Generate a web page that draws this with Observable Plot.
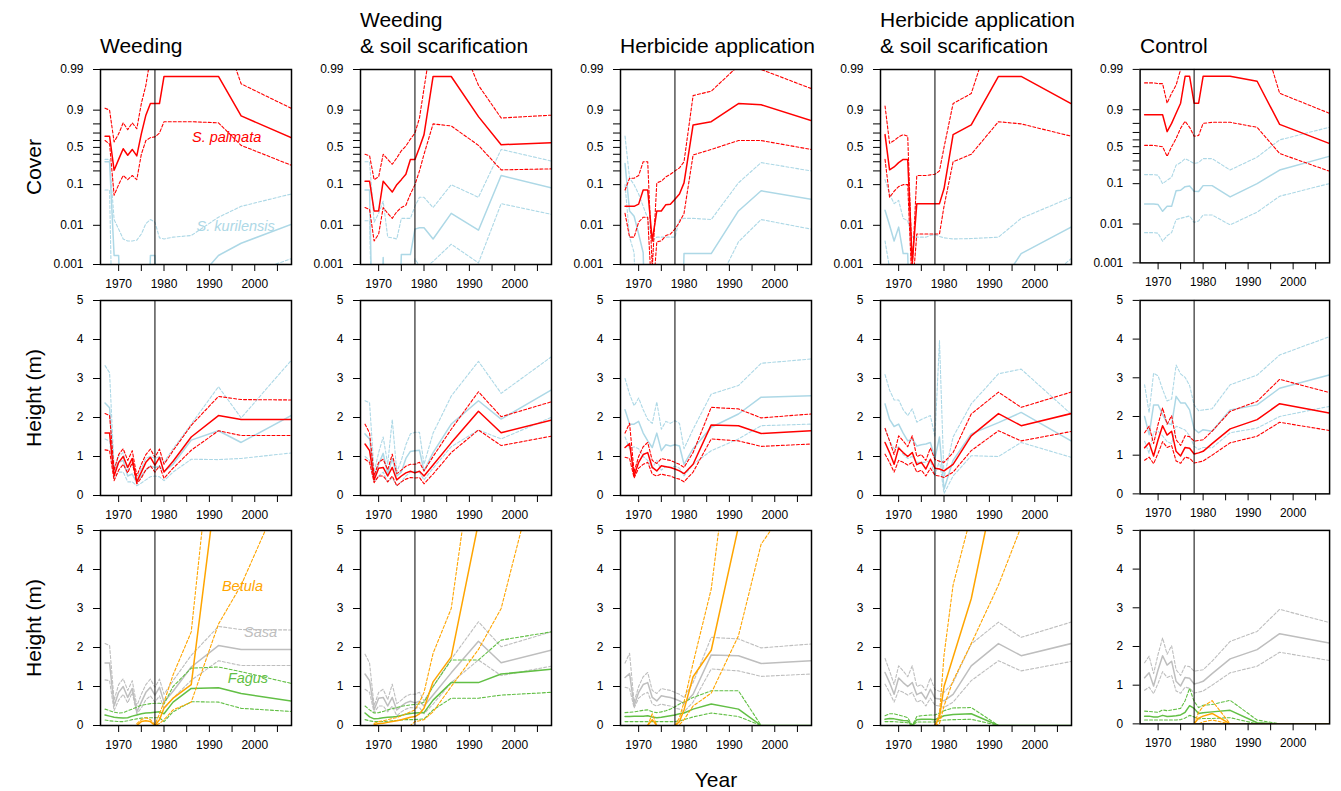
<!DOCTYPE html>
<html><head><meta charset="utf-8">
<script src="https://cdn.jsdelivr.net/npm/d3@7"></script>
<script src="https://cdn.jsdelivr.net/npm/@observablehq/plot@0.6"></script>
<style>
body{margin:0;background:#fff;}
#root{position:relative;width:1341px;height:791px;font-family:"Liberation Sans",Arial,sans-serif;color:#000;overflow:hidden;}
.title{position:absolute;font-size:21px;line-height:26px;white-space:pre;}
.ylab{position:absolute;width:0;height:0;}
.ylab span{position:absolute;left:0;top:0;transform:translate(-50%,-50%) rotate(-90deg);font-size:21px;white-space:nowrap;}
.xlab{position:absolute;font-size:21px;transform:translate(-50%,-50%);}
.panel{position:absolute;}
</style></head><body><div id="root"></div>
<script>
// ---------------- data ----------------
const years = [1967,1968,1969,1970,1971,1972,1973,1974,1975,1976,1977,1978,1979,1980,1982,1986,1992,1997,2008];
const treatments = ["Weeding", "Weeding\n& soil scarification", "Herbicide application", "Herbicide application\n& soil scarification", "Control"];
const rowLabels = ["Cover", "Height (m)", "Height (m)"];
const coverTicks = [0.001, 0.01, 0.1, 0.5, 0.9, 0.99];
const coverMinorTicks = [0.2, 0.3, 0.4, 0.6, 0.7, 0.8];
const heightTicks = [0, 1, 2, 3, 4, 5];
const yearTicks = [1970, 1975, 1980, 1985, 1990, 1995, 2000, 2005];
const treatmentYear = 1978;

// Cover of Sasa palmata (median, lower, upper), one row per treatment
const coverPalmataMid = [
  [0.66,0.66,0.206,0.33,0.48,0.386,0.47,0.377,0.69,0.87,0.93,0.93,0.93,0.985,0.985,0.985,0.985,0.865,0.64],
  [0.12,0.12,0.023,0.023,0.12,0.09,0.067,0.1,0.13,0.17,0.33,0.33,0.5,0.68,0.985,0.985,0.86,0.54,0.57],
  [0.03,0.03,0.03,0.034,0.075,0.075,0.004,0.023,0.023,0.033,0.034,0.045,0.06,0.11,0.79,0.82,0.93,0.925,0.83],
  [0.68,0.21,0.24,0.29,0.33,0.33,0.0011,0.035,0.035,0.035,0.035,0.035,0.035,0.08,0.68,0.79,0.985,0.985,0.93],
  [0.87,0.87,0.87,0.87,0.87,0.71,0.8,0.88,0.93,0.985,0.985,0.93,0.93,0.985,0.985,0.985,0.98,0.79,0.55]
];
const coverPalmataLo = [
  [0.6,0.55,0.056,0.1,0.16,0.13,0.16,0.13,0.4,0.6,0.64,0.65,0.7,0.82,0.82,0.82,0.81,0.53,0.26],
  [0.028,0.025,0.004,0.006,0.028,0.02,0.015,0.022,0.028,0.032,0.06,0.1,0.2,0.4,0.8,0.78,0.53,0.21,0.22],
  [0.02,0.005,0.005,0.012,0.016,0.016,0.0001,0.0038,0.004,0.0055,0.006,0.008,0.012,0.02,0.39,0.47,0.6,0.6,0.47],
  [0.33,0.05,0.07,0.09,0.1,0.1,0.0002,0.006,0.006,0.006,0.006,0.006,0.006,0.03,0.3,0.4,0.82,0.8,0.66],
  [0.52,0.52,0.52,0.51,0.5,0.36,0.5,0.62,0.75,0.82,0.76,0.65,0.66,0.8,0.81,0.81,0.76,0.4,0.19]
];
const coverPalmataHi = [
  [0.91,0.9,0.58,0.69,0.81,0.74,0.81,0.75,0.93,0.975,0.995,0.998,0.998,0.998,0.998,0.998,0.9995,0.977,0.91],
  [0.4,0.38,0.13,0.15,0.4,0.33,0.27,0.35,0.45,0.52,0.62,0.7,0.85,0.97,0.999,0.9995,0.975,0.85,0.87],
  [0.075,0.14,0.14,0.16,0.3,0.3,0.0008,0.11,0.12,0.15,0.17,0.2,0.23,0.3,0.955,0.965,0.992,0.99,0.97],
  [0.92,0.56,0.6,0.65,0.68,0.66,0.0008,0.16,0.16,0.16,0.165,0.17,0.2,0.5,0.93,0.96,0.9997,0.9997,0.9997],
  [0.978,0.978,0.978,0.977,0.977,0.93,0.96,0.975,0.99,0.999,0.999,0.999,0.999,0.999,0.999,0.9995,0.9995,0.96,0.88]
];
// Cover of Sasa kurilensis
const coverKurilMid = [
  [0.3,0.3,0.0017,0.0017,0,0,0,0,0,0,0.0017,0.0017,0,0,0,0.00027,0.0017,0.0035,0.0105],
  [0.075,0.075,0,0,0.0015,0,0,0,0.0018,0.0018,0.0018,0.008,0.0087,0.0087,0.0045,0.02,0.0075,0.16,0.085],
  [0.28,0.023,0.017,0.006,0.002,0,0,0,0,0,0,0,0,0.0019,0.0019,0.0019,0.023,0.072,0.045],
  [0.024,0.01,0.004,0.009,0.0019,0.0019,0,0,0,0,0,0,0,0,0,0,0.00025,0.0019,0.009],
  [0.032,0.032,0.032,0.031,0.021,0.028,0.028,0.068,0.07,0.085,0.088,0.066,0.065,0.09,0.09,0.048,0.1,0.2,0.36]
];
const coverKurilLo = [
  [0.075,0.075,0,0,0,0,0,0,0,0,0,0,0,0,0,0,0.0001,0.0005,0.0014],
  [0.013,0.013,0,0,0,0,0,0,0,0,0,0.0014,0.0009,0.0008,0.0012,0.0033,0.0011,0.035,0.019],
  [0.1,0.005,0.002,0,0,0,0,0,0,0,0,0,0,0,0,0.00015,0.0038,0.014,0.008],
  [0.004,0.0008,0,0,0,0,0,0,0,0,0,0,0,0,0,0,0,0.000126,0.0014],
  [0.006,0.006,0.006,0.0058,0.0036,0.005,0.006,0.013,0.014,0.015,0.016,0.011,0.012,0.017,0.017,0.0095,0.02,0.05,0.1]
];
const coverKurilHi = [
  [0.33,0.33,0.014,0.008,0.0045,0.004,0.004,0.0042,0.006,0.011,0.014,0.012,0.0048,0.0045,0.005,0.0055,0.016,0.03,0.06],
  [0.3,0.3,0.012,0.02,0.04,0.005,0.0048,0.0045,0.015,0.015,0.015,0.03,0.05,0.05,0.028,0.1,0.05,0.47,0.31],
  [0.66,0.14,0.1,0.06,0.03,0.015,0.004,0.005,0.005,0.005,0.005,0.005,0.014,0.015,0.015,0.014,0.11,0.29,0.2],
  [0.13,0.06,0.035,0.042,0.015,0.013,0.005,0.005,0.005,0.005,0.0055,0.0058,0.0052,0.0048,0.0045,0.0046,0.005,0.015,0.05],
  [0.16,0.16,0.16,0.155,0.1,0.12,0.14,0.25,0.28,0.33,0.3,0.27,0.28,0.33,0.33,0.2,0.35,0.6,0.76]
];
// Height (m) of Sasa palmata (also the grey "Sasa" lines of the bottom row)
const heightPalmataMid = [
  [1.6,1.6,0.5,0.85,1.0,0.72,0.95,0.35,0.6,0.85,0.98,0.78,0.98,0.6,0.88,1.5,2.05,1.95,1.95],
  [1.32,1.15,0.4,0.7,0.72,0.5,0.72,0.4,0.5,0.58,0.62,0.58,0.62,0.5,0.78,1.35,2.16,1.61,1.93],
  [1.23,1.33,0.5,0.85,1.05,1.1,0.72,0.63,0.76,0.74,0.72,0.68,0.63,0.56,0.8,1.81,1.79,1.59,1.66],
  [1.36,1.1,0.8,1.22,1.1,1.0,1.1,0.79,0.85,0.68,0.93,0.7,0.68,0.63,0.8,1.53,2.1,1.79,2.1],
  [1.19,1.32,0.98,1.4,1.76,1.52,1.62,1.1,0.98,1.2,1.18,1.03,1.06,1.1,1.3,1.68,1.92,2.33,2.09]
];
const heightPalmataLo = [
  [1.17,1.15,0.38,0.65,0.8,0.58,0.85,0.3,0.45,0.66,0.76,0.6,0.76,0.44,0.7,1.16,1.66,1.54,1.54],
  [0.93,0.85,0.33,0.5,0.5,0.35,0.5,0.25,0.35,0.42,0.46,0.45,0.46,0.3,0.55,1.1,1.68,1.28,1.52],
  [0.98,0.95,0.45,0.7,0.8,0.85,0.55,0.5,0.55,0.52,0.5,0.45,0.42,0.35,0.6,1.45,1.4,1.26,1.32],
  [1.06,0.85,0.6,0.9,0.85,0.78,0.85,0.6,0.65,0.5,0.7,0.52,0.5,0.46,0.6,1.15,1.66,1.4,1.64],
  [0.87,0.95,0.78,1.05,1.35,1.2,1.25,0.85,0.79,0.95,0.92,0.8,0.82,0.85,1.0,1.32,1.49,1.85,1.64]
];
const heightPalmataHi = [
  [2.1,2.05,0.65,1.05,1.2,0.9,1.15,0.5,0.8,1.05,1.19,0.98,1.19,0.8,1.15,1.8,2.54,2.46,2.45],
  [1.83,1.6,0.5,0.85,0.93,0.66,1.06,0.56,0.65,0.75,0.8,0.8,0.85,0.63,1.0,1.7,2.66,2.02,2.4],
  [1.6,1.85,0.6,1.0,1.25,1.36,0.9,0.82,0.95,0.92,0.9,0.85,0.8,0.72,1.1,2.26,2.22,1.99,2.09],
  [1.72,1.4,1.05,1.53,1.4,1.25,1.53,1.0,1.05,0.9,1.22,0.92,0.88,0.85,1.1,2.09,2.65,2.26,2.65],
  [1.58,1.75,1.3,1.8,2.22,1.8,2.02,1.4,1.25,1.5,1.48,1.36,1.38,1.4,1.62,2.13,2.39,2.96,2.62]
];
// Height (m) of Sasa kurilensis
const heightKurilMid = [
  [2.37,2.25,0.6,0.85,0.9,0.5,0.55,0.33,0.5,0.65,0.75,0.72,0.75,0.62,0.8,1.42,1.66,1.36,2.05],
  [1.58,1.45,0.46,0.8,1.08,0.55,0.95,0.5,0.6,0.95,1.13,1.15,1.16,0.63,1.1,1.83,2.43,1.96,2.7],
  [2.2,1.83,1.83,1.9,1.6,1.4,1.23,1.6,1.15,1.3,1.27,1.3,1.27,0.8,1.2,1.75,2.09,2.52,2.56],
  [2.35,1.95,1.77,1.83,1.6,1.4,1.45,1.27,1.3,1.32,1.36,0.95,1.5,0.16,0.9,1.58,1.87,2.13,1.4],
  [2.0,1.53,2.3,2.3,2.05,1.83,1.79,2.52,2.35,2.35,2.17,1.68,1.58,1.66,1.62,2.17,2.3,2.73,3.07]
];
const heightKurilLo = [
  [1.45,1.4,0.45,0.6,0.6,0.35,0.35,0.25,0.32,0.4,0.48,0.5,0.48,0.38,0.6,0.93,0.92,0.95,1.09],
  [1.0,0.9,0.35,0.5,0.6,0.35,0.45,0.25,0.35,0.5,0.6,0.62,0.6,0.4,0.7,1.25,1.68,1.45,2.0],
  [1.5,1.2,1.25,1.2,1.0,0.9,0.7,0.9,0.65,0.75,0.72,0.75,0.7,0.5,0.8,1.15,1.45,1.79,1.83],
  [1.72,1.4,1.2,1.25,1.05,0.95,1.0,0.85,0.85,0.85,0.9,0.5,0.9,0.05,0.5,1.02,1.0,1.36,0.98],
  [1.36,1.05,1.6,1.62,1.5,1.35,1.3,1.75,1.7,1.65,1.5,1.23,1.15,1.2,1.19,1.58,1.7,2.0,2.26]
];
const heightKurilHi = [
  [3.33,3.15,0.7,1.0,1.1,0.65,0.8,0.45,0.7,0.95,1.0,0.95,1.0,0.85,1.2,1.83,2.79,1.99,3.46],
  [2.43,2.38,0.6,1.1,1.5,0.8,1.95,0.6,0.9,1.3,1.58,1.62,1.62,0.8,1.6,2.55,3.44,2.62,3.55],
  [3.0,2.6,2.3,2.5,2.2,1.95,1.85,2.4,1.7,1.9,1.85,1.92,1.85,1.2,1.7,2.6,2.82,3.39,3.5],
  [3.1,2.7,2.45,2.45,2.2,2.05,2.22,1.88,1.95,2.0,2.05,1.5,3.97,0.45,1.5,2.35,3.12,3.24,2.09],
  [2.82,2.1,3.12,3.05,2.7,2.4,2.45,3.33,3.1,3.01,2.8,2.3,2.15,2.17,2.2,2.82,3.07,3.59,4.06]
];
// Height (m) of Betula (null = not present)
const betulaMid = [
  [null,null,null,null,null,null,null,0,0.1,0.12,0.1,0,0.15,0.45,0.7,1.05,6.6,10,14],
  [null,null,0.02,0.05,0.06,0.08,0.1,0.12,0.15,0.18,0.21,0.23,0.3,0.44,1.12,1.76,5.2,8,12],
  [null,null,null,null,null,0,0.15,0,null,null,null,0,0.1,0.4,1.25,1.93,5.1,8,12],
  [null,null,null,null,null,null,null,null,null,null,null,0,0.2,1.0,1.75,3.25,6.6,10,14],
  [null,null,null,null,null,null,null,null,null,null,null,0,0.15,0.2,0.27,0,0,0,0]
];
const betulaLo = [
  [null,null,null,null,null,null,null,0,0,0,0,0,0.05,0.15,0.4,0.6,2.6,3.6,6.5],
  [null,null,0,0,0,0,0,0,0,0,0,0.1,0.12,0.15,0.35,1.0,1.95,3.0,8],
  [null,null,null,null,null,0,0,0,null,null,null,0,0.02,0.15,0.5,0.83,2.3,4.65,6.5],
  [null,null,null,null,null,null,null,null,null,null,null,0,0.05,0.5,1.15,2.1,3.6,5.1,8],
  [null,null,null,null,null,null,null,null,null,null,null,0,0,0.05,0.1,0,0,0,0]
];
const betulaHi = [
  [null,null,null,null,null,null,null,0.05,0.15,0.2,0.15,0.02,0.3,0.6,1.3,2.4,9,12,15],
  [null,null,0.05,0.1,0.12,0.15,0.18,0.2,0.25,0.3,0.35,0.4,0.6,0.85,1.85,3.0,8,11,15],
  [null,null,null,null,null,0,0.3,0,null,null,null,0,0.2,0.6,1.6,3.5,9,12,15],
  [null,null,null,null,null,null,null,null,null,null,null,0,0.3,1.8,3.6,5.4,12,15,20],
  [null,null,null,null,null,null,null,null,null,null,null,0,0.3,0.45,0.6,0,0,0,0]
];
// Height (m) of Fagus
const fagusMid = [
  [0.27,0.24,0.21,0.2,0.19,0.2,0.24,0.27,0.3,0.32,0.33,0.34,0.35,0.3,0.6,0.95,0.97,0.82,0.63],
  [0.32,0.22,0.17,0.18,0.2,0.21,0.22,0.23,0.26,0.29,0.31,0.32,0.33,0.33,0.65,1.1,1.1,1.32,1.44],
  [0.23,0.23,0.24,0.24,0.24,0.25,0.22,0.2,0.21,0.23,0.25,0.27,0.3,0.32,0.42,0.55,0.42,0,0],
  [0.16,0.18,0.17,0.15,0.13,0.12,0,0.15,0.16,0.16,0.16,0.15,0.2,0.25,0.28,0.3,0,0,0],
  [0.2,0.2,0.18,0.18,0.22,0.19,0.2,0.21,0.23,0.3,0.47,0.4,0.27,0.29,0.31,0.35,0.03,0,0]
];
const fagusLo = [
  [0.14,0.12,0.11,0.1,0.1,0.12,0.15,0.17,0.19,0.2,0.2,0.2,0.2,0.1,0.35,0.61,0.6,0.44,0.36],
  [0.15,0.12,0.1,0.1,0.1,0.11,0.12,0.13,0.14,0.15,0.15,0.15,0.16,0.17,0.4,0.7,0.7,0.78,0.85],
  [0.1,0.1,0.1,0.1,0.1,0.1,0.1,0.1,0.1,0.1,0.1,0.1,0.12,0.15,0.22,0.32,0.23,0,0],
  [0.1,0.1,0.1,0.09,0.08,0.07,0,0.09,0.09,0.09,0.09,0.09,0.12,0.14,0.15,0.16,0,0,0],
  [0.1,0.1,0.1,0.1,0.1,0.1,0.1,0.1,0.11,0.15,0.22,0.18,0.13,0.14,0.14,0.16,0,0,0]
];
const fagusHi = [
  [0.42,0.38,0.34,0.32,0.33,0.38,0.42,0.47,0.52,0.54,0.56,0.57,0.57,0.55,1.0,1.47,1.5,1.38,1.08],
  [0.5,0.4,0.32,0.33,0.36,0.4,0.43,0.46,0.49,0.51,0.53,0.54,0.55,0.6,1.0,1.68,1.68,2.19,2.4],
  [0.33,0.34,0.35,0.37,0.39,0.4,0.35,0.33,0.35,0.38,0.42,0.48,0.55,0.6,0.72,0.89,0.89,0,0],
  [0.25,0.3,0.3,0.27,0.24,0.2,0,0.23,0.25,0.26,0.27,0.27,0.32,0.38,0.45,0.46,0,0,0],
  [0.33,0.32,0.31,0.3,0.36,0.34,0.36,0.38,0.4,0.6,0.92,0.58,0.42,0.48,0.5,0.61,0.1,0,0]
];
// In-panel species labels (first column only)
const coverLabels = [{x: 1993.8, p: 0.646, text: "S. palmata", sp: "palmata"}, {x: 1995.8, p: 0.0094, text: "S. kurilensis", sp: "kurilensis"}];
const treeLabels = [{x: 1997.3, h: 3.58, text: "Betula", sp: "betula"}, {x: 2001.3, h: 2.38, text: "Sasa", sp: "sasa"}, {x: 1998.5, h: 1.2, text: "Fagus", sp: "fagus"}];

// ---------------- styles ----------------
const colors = {palmata: "#ff0000", kurilensis: "#add8e6", betula: "#ffa500", sasa: "#bebebe", fagus: "#62bf45"};
const PW = 191, PH = 195, ML = 50, MR = 12, MT = 10, MB = 38;
const colLeft = c => 100 + 260 * c;
const rowTop = [69, 300, 530];
const font = "'Liberation Sans', Arial, sans-serif";

const logit = p => { const q = Math.min(Math.max(p, 1e-7), 1 - 1e-7); return Math.log(q / (1 - q)); };
const ident = v => v;

function band(mid, lo, hi, color, tf) {
  const mk = arr => years.map((yr, i) => ({year: yr, v: arr[i] == null ? NaN : tf(arr[i])}));
  return [
    Plot.line(mk(lo), {x: "year", y: "v", stroke: color, strokeWidth: 1.1, strokeDasharray: "3,2", clip: true}),
    Plot.line(mk(hi), {x: "year", y: "v", stroke: color, strokeWidth: 1.1, strokeDasharray: "3,2", clip: true}),
    Plot.line(mk(mid), {x: "year", y: "v", stroke: color, strokeWidth: 1.5, clip: true})
  ];
}

function makePanel(row, col) {
  let marks = [], yOpts, axes;
  const xAxis = Plot.axisX({ticks: yearTicks, tickFormat: d => d % 10 === 0 ? String(d) : "", tickSize: 7, tickPadding: 8, strokeWidth: 1, label: null, fontSize: 12});
  const hAxis = () => [Plot.axisY({ticks: heightTicks, tickFormat: d => String(d), tickSize: 7, tickPadding: 10, strokeWidth: 1, label: null, fontSize: 12})];
  if (row === 0) {
    marks.push(...band(coverKurilMid[col], coverKurilLo[col], coverKurilHi[col], colors.kurilensis, logit));
    marks.push(...band(coverPalmataMid[col], coverPalmataLo[col], coverPalmataHi[col], colors.palmata, logit));
    if (col === 0) {
      marks.push(Plot.text(coverLabels, {x: "x", y: d => logit(d.p), text: "text", fill: d => colors[d.sp], fontStyle: "italic", fontSize: 14.5}));
    }
    yOpts = {domain: [logit(0.001), logit(0.99)], label: null};
    axes = [
      Plot.axisY({ticks: coverMinorTicks.map(logit), tickFormat: () => "", tickSize: 7, strokeWidth: 1, label: null}),
      Plot.axisY({ticks: coverTicks.map(logit), tickFormat: d => { const i = coverTicks.findIndex(t => Math.abs(logit(t) - d) < 1e-6); return String(coverTicks[i]); }, tickSize: 7, tickPadding: 10, strokeWidth: 1, label: null, fontSize: 12})
    ];
  } else if (row === 1) {
    marks.push(...band(heightKurilMid[col], heightKurilLo[col], heightKurilHi[col], colors.kurilensis, ident));
    marks.push(...band(heightPalmataMid[col], heightPalmataLo[col], heightPalmataHi[col], colors.palmata, ident));
    yOpts = {domain: [0, 5], label: null};
    axes = hAxis();
  } else {
    marks.push(...band(heightPalmataMid[col], heightPalmataLo[col], heightPalmataHi[col], colors.sasa, ident));
    marks.push(...band(fagusMid[col], fagusLo[col], fagusHi[col], colors.fagus, ident));
    marks.push(...band(betulaMid[col], betulaLo[col], betulaHi[col], colors.betula, ident));
    if (col === 0) {
      marks.push(Plot.text(treeLabels, {x: "x", y: "h", text: "text", fill: d => colors[d.sp], fontStyle: "italic", fontSize: 14.5, letterSpacing: "1px"}));
    }
    yOpts = {domain: [0, 5], label: null};
    axes = hAxis();
  }
  const svg = Plot.plot({
    width: PW + ML + MR, height: PH + MT + MB,
    marginLeft: ML, marginRight: MR, marginTop: MT, marginBottom: MB,
    style: {fontFamily: font, fontSize: "12px", background: "transparent", color: "#000", overflow: "visible"},
    x: {domain: [1966, 2008.1], label: null},
    y: yOpts,
    marks: [
      ...marks,
      Plot.ruleX([treatmentYear], {stroke: "#000", strokeWidth: 1}),
      Plot.frame({stroke: "#000", strokeWidth: 1.5}),
      xAxis,
      ...axes
    ]
  });
  const wrap = document.createElement("div");
  wrap.className = "panel";
  wrap.style.left = (colLeft(col) - ML) + "px";
  wrap.style.top = (rowTop[row] - MT) + "px";
  wrap.appendChild(svg);
  return wrap;
}

const root = document.getElementById("root");
for (let r = 0; r < 3; r++) for (let c = 0; c < 5; c++) root.appendChild(makePanel(r, c));

treatments.forEach((t, c) => {
  const d = document.createElement("div");
  d.className = "title";
  d.textContent = t;
  d.style.left = colLeft(c) + "px";
  d.style.top = (t.includes("\n") ? 7 : 33) + "px";
  root.appendChild(d);
});
rowLabels.forEach((t, r) => {
  const d = document.createElement("div");
  d.className = "ylab";
  d.style.left = "34px";
  d.style.top = (rowTop[r] + PH / 2) + "px";
  const s = document.createElement("span");
  s.textContent = t;
  d.appendChild(s);
  root.appendChild(d);
});
const xl = document.createElement("div");
xl.className = "xlab";
xl.textContent = "Year";
xl.style.left = "716px";
xl.style.top = "780px";
root.appendChild(xl);
</script></body></html>
